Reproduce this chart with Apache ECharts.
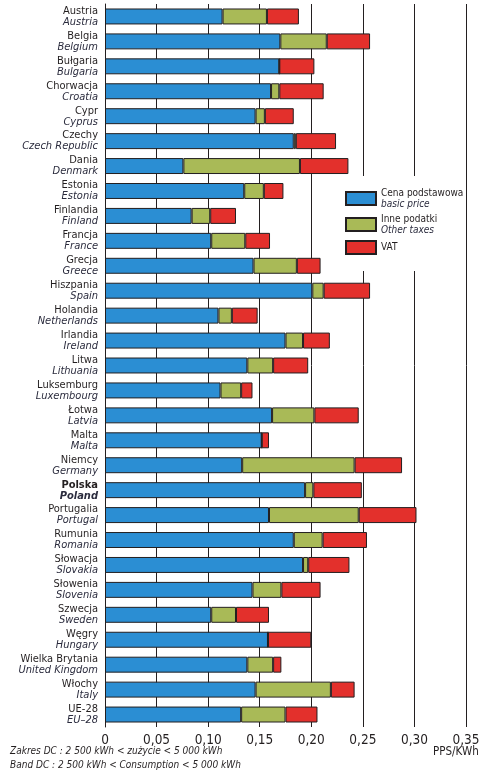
<!DOCTYPE html>
<html>
<head>
<meta charset="utf-8">
<script src="https://cdn.jsdelivr.net/npm/echarts@6/dist/echarts.min.js"></script>
<style>
html,body{margin:0;padding:0;background:#fff;}
#c{width:498px;height:771px;}
</style>
</head>
<body>
<div id="c"></div>
<script>
const categoriesPL = ['Austria','Belgia','Bułgaria','Chorwacja','Cypr','Czechy','Dania','Estonia','Finlandia','Francja','Grecja','Hiszpania','Holandia','Irlandia','Litwa','Luksemburg','Łotwa','Malta','Niemcy','Polska','Portugalia','Rumunia','Słowacja','Słowenia','Szwecja','Węgry','Wielka Brytania','Włochy','UE-28'];
const categoriesEN = ['Austria','Belgium','Bulgaria','Croatia','Cyprus','Czech Republic','Denmark','Estonia','Finland','France','Greece','Spain','Netherlands','Ireland','Lithuania','Luxembourg','Latvia','Malta','Germany','Poland','Portugal','Romania','Slovakia','Slovenia','Sweden','Hungary','United Kingdom','Italy','EU–28'];
const basicPrice = [0.114,0.170,0.169,0.161,0.146,0.183,0.076,0.135,0.084,0.103,0.144,0.201,0.110,0.175,0.138,0.112,0.162,0.152,0.133,0.194,0.159,0.183,0.192,0.143,0.103,0.158,0.138,0.146,0.132];
const otherTaxes = [0.043,0.045,0.000,0.008,0.009,0.002,0.113,0.019,0.018,0.033,0.042,0.011,0.013,0.017,0.025,0.020,0.041,0.000,0.109,0.008,0.087,0.028,0.005,0.028,0.024,0.000,0.025,0.073,0.043];
const vat = [0.031,0.042,0.034,0.043,0.028,0.039,0.047,0.019,0.025,0.024,0.023,0.045,0.025,0.026,0.034,0.011,0.043,0.007,0.046,0.047,0.056,0.043,0.040,0.038,0.032,0.042,0.008,0.023,0.031];
const xTicks = [0,0.05,0.10,0.15,0.20,0.25,0.30,0.35];
const seriesNamesPL = ['Cena podstawowa','Inne podatki','VAT'];
const seriesNamesEN = ['basic price','Other taxes',''];
const highlightCategory = 'Polska';

const FONT = "'Liberation Sans Narrow','DejaVu Sans Condensed','Arial Narrow',sans-serif";
const BLUE = '#2b8ed3', GREEN = '#a9ba57', RED = '#e3302c', EDGE = '#231f20';

const chart = echarts.init(document.getElementById('c'), null, {renderer:'canvas'});
const mkSeries = (name, data, color) => ({
  name, type:'bar', stack:'total', data, barWidth:'64%',
  itemStyle:{color, borderColor:EDGE, borderWidth:1},
  emphasis:{disabled:true}, animation:false
});
chart.setOption({
  animation:false,
  textStyle:{fontFamily:FONT},
  grid:{left:105, right:32, top:4, bottom:44, containLabel:false},
  xAxis:{
    type:'value', min:0, max:0.35, interval:0.05,
    axisLine:{show:false}, axisTick:{show:false},
    splitLine:{show:true, lineStyle:{color:EDGE, width:1}},
    axisLabel:{
      margin:6, fontSize:13.5, color:'#231f20', fontFamily:FONT,
      formatter:v => { const i = xTicks.findIndex(t => Math.abs(t - v) < 1e-9); const t = i >= 0 ? xTicks[i] : v; return t === 0 ? '0' : t.toFixed(2).replace('.', ','); }
    }
  },
  yAxis:{
    type:'category', inverse:true, data:categoriesPL,
    axisLine:{show:true, lineStyle:{color:EDGE, width:1}},
    axisTick:{show:false},
    axisLabel:{
      margin:7, align:'right', fontFamily:FONT,
      formatter:(v, i) => v === highlightCategory
        ? '{plb|' + v + '}\n{enb|' + categoriesEN[i] + '}'
        : '{pl|' + v + '}\n{en|' + categoriesEN[i] + '}',
      rich:{
        pl:{fontSize:11, lineHeight:11, color:'#231f20', fontFamily:FONT, align:'right'},
        en:{fontSize:11, lineHeight:11, color:'#2a2b3d', fontStyle:'italic', fontFamily:FONT, align:'right'},
        plb:{fontSize:11, lineHeight:11, color:'#231f20', fontWeight:'bold', fontFamily:FONT, align:'right'},
        enb:{fontSize:11, lineHeight:11, color:'#2a2b3d', fontWeight:'bold', fontStyle:'italic', fontFamily:FONT, align:'right'}
      }
    }
  },
  legend:{
    orient:'vertical', left:335, top:176,
    padding:[12, 2, 16, 10], backgroundColor:'#fff',
    itemWidth:30, itemHeight:13, itemGap:5,
    icon:'rect', selectedMode:false,
    data:seriesNamesPL,
    formatter:name => {
      const i = seriesNamesPL.indexOf(name);
      return seriesNamesEN[i] ? '{a|' + name + '}\n{b|' + seriesNamesEN[i] + '}' : '{c|' + name + '}';
    },
    textStyle:{
      fontFamily:FONT,
      rich:{
        a:{fontSize:10, lineHeight:11, color:'#231f20', fontFamily:FONT},
        b:{fontSize:10, lineHeight:11, color:'#2a2b3d', fontStyle:'italic', fontFamily:FONT},
        c:{fontSize:10, lineHeight:22, color:'#231f20', fontFamily:FONT}
      }
    }
  },
  graphic:[
    {type:'text', left:433, top:746, style:{text:'PPS/KWh', fontSize:11.5, fill:'#231f20', fontFamily:FONT}},
    {type:'text', left:10, top:746, style:{text:'Zakres DC : 2 500 kWh < zużycie < 5 000 kWh', fontSize:10, fontStyle:'italic', fill:'#231f20', fontFamily:FONT}},
    {type:'text', left:10, top:760, style:{text:'Band DC : 2 500 kWh < Consumption < 5 000 kWh', fontSize:10, fontStyle:'italic', fill:'#231f20', fontFamily:FONT}}
  ],
  series:[
    mkSeries(seriesNamesPL[0], basicPrice, BLUE),
    mkSeries(seriesNamesPL[1], otherTaxes, GREEN),
    mkSeries(seriesNamesPL[2], vat, RED)
  ]
});
</script>
</body>
</html>
